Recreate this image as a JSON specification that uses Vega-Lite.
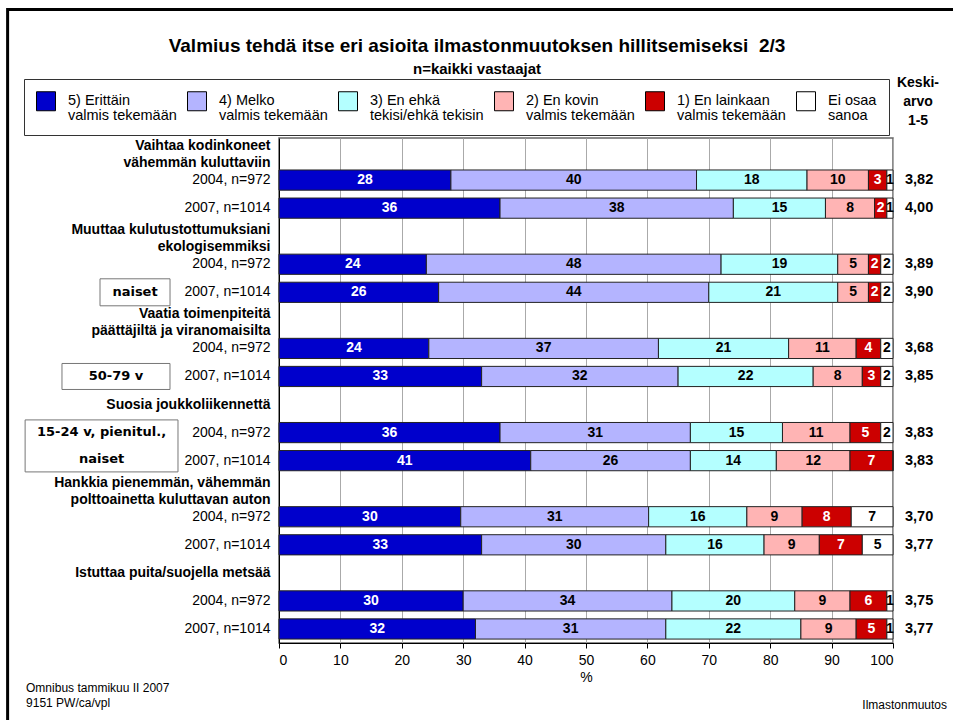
{
  "$schema": "https://vega.github.io/schema/vega-lite/v6.json",
  "width": 614,
  "height": 505,
  "autosize": {"type": "none"},
  "padding": {"left": 279, "top": 138, "right": 60, "bottom": 77},
  "background": "white",
  "title": {
    "text": "Valmius tehdä itse eri asioita ilmastonmuutoksen hillitsemiseksi\u00a0 2/3",
    "subtitle": "n=kaikki vastaajat",
    "font": "Liberation Sans",
    "fontSize": 19,
    "fontWeight": "bold",
    "color": "black",
    "subtitleFont": "Liberation Sans",
    "subtitleFontSize": 15,
    "subtitleFontWeight": "bold",
    "subtitleColor": "black",
    "subtitlePadding": 6,
    "anchor": "middle",
    "dx": -109,
    "dy": 79,
    "offset": 10
  },
  "config": {
    "font": "Liberation Sans",
    "locale": {"number": {"decimal": ",", "thousands": " ", "grouping": [3], "currency": ["", " €"]}},
    "view": {"stroke": "#666", "strokeWidth": 1.5},
    "style": {"guide-label": {"lineHeight": 15}}
  },
  "data": {
    "values": [
      {"slot": "1_2004", "mean": 3.82, "v5": 28, "v4": 40, "v3": 18, "v2": 10, "v1": 3, "v0": 1},
      {"slot": "1_2007", "mean": 4.00, "v5": 36, "v4": 38, "v3": 15, "v2": 8, "v1": 2, "v0": 1},
      {"slot": "2_2004", "mean": 3.89, "v5": 24, "v4": 48, "v3": 19, "v2": 5, "v1": 2, "v0": 2},
      {"slot": "2_2007", "mean": 3.90, "v5": 26, "v4": 44, "v3": 21, "v2": 5, "v1": 2, "v0": 2},
      {"slot": "3_2004", "mean": 3.68, "v5": 24.4, "v4": 37.4, "v3": 21.2, "v2": 11, "v1": 4, "v0": 2},
      {"slot": "3_2007", "mean": 3.85, "v5": 33, "v4": 32, "v3": 22, "v2": 8, "v1": 3, "v0": 2},
      {"slot": "4_2004", "mean": 3.83, "v5": 36, "v4": 31, "v3": 15, "v2": 11, "v1": 5, "v0": 2},
      {"slot": "4_2007", "mean": 3.83, "v5": 41, "v4": 26, "v3": 14, "v2": 12, "v1": 7, "v0": 0},
      {"slot": "5_2004", "mean": 3.70, "v5": 29.6, "v4": 30.6, "v3": 16, "v2": 9, "v1": 8, "v0": 6.8},
      {"slot": "5_2007", "mean": 3.77, "v5": 33, "v4": 30, "v3": 16, "v2": 9, "v1": 7, "v0": 5},
      {"slot": "6_2004", "mean": 3.75, "v5": 30, "v4": 34, "v3": 20, "v2": 9, "v1": 6, "v0": 1},
      {"slot": "6_2007", "mean": 3.77, "v5": 32, "v4": 31, "v3": 22, "v2": 9, "v1": 5, "v0": 1}
    ]
  },
  "resolve": {"scale": {"y": "independent"}},
  "layer": [
    {
      "data": {"values": [{"f": 1}]},
      "mark": {"type": "rect", "fillOpacity": 0, "stroke": "black", "strokeWidth": 3},
      "encoding": {
        "x": {"datum": -44.2, "type": "quantitative", "scale": {"domain": [0, 100]}},
        "x2": {"datum": 112},
        "y": {"datum": 125.45, "type": "quantitative", "scale": {"domain": [0, 100], "nice": false, "zero": false}, "axis": null},
        "y2": {"datum": -20}
      }
    },
    {
      "encoding": {
        "y": {
          "field": "slot",
          "type": "nominal",
          "sort": null,
          "scale": {
            "domain": [
              "Vaihtaa kodinkoneet|vähemmän kuluttaviin", "1_2004", "1_2007",
              "Muuttaa kulutustottumuksiani|ekologisemmiksi", "2_2004", "2_2007",
              "Vaatia toimenpiteitä|päättäjiltä ja viranomaisilta", "3_2004", "3_2007",
              "Suosia joukkoliikennettä", "4_2004", "4_2007",
              "Hankkia pienemmän, vähemmän|polttoainetta kuluttavan auton", "5_2004", "5_2007",
              "Istuttaa puita/suojella metsää", "6_2004", "6_2007"
            ],
            "paddingInner": 0.28,
            "paddingOuter": 0.14
          },
          "axis": {
            "title": null,
            "ticks": false,
            "domainColor": "black",
            "labelPadding": 9,
            "labelFont": "Liberation Sans",
            "labelFontSize": 14,
            "labelColor": "black",
            "labelLimit": 300,
            "labelLineHeight": 17,
            "labelExpr": "indexof(datum.value,'_2004')>0 ? '2004, n=972' : indexof(datum.value,'_2007')>0 ? '2007, n=1014' : split(datum.value,'|')",
            "labelFontWeight": {"condition": {"test": "indexof(datum.value,'_')<0", "value": "bold"}, "value": "normal"},
            "labelOffset": {"condition": {"test": "indexof(datum.value,'|')>0", "value": -6}, "value": 0}
          }
        }
      },
      "layer": [
        {
          "transform": [
            {"fold": ["v5", "v4", "v3", "v2", "v1", "v0"], "as": ["k", "val"]},
            {"calculate": "indexof(['v5','v4','v3','v2','v1','v0'], datum.k)", "as": "ord"},
            {"stack": "val", "groupby": ["slot"], "sort": [{"field": "ord", "order": "ascending"}], "as": ["x0", "x1"]},
            {"calculate": "(datum.x0 + datum.x1) / 2", "as": "xm"}
          ],
          "layer": [
            {
              "mark": {"type": "bar", "stroke": "#222", "strokeWidth": 1},
              "encoding": {
                "x": {
                  "field": "x0",
                  "type": "quantitative",
                  "scale": {"domain": [0, 100]},
                  "axis": {
                    "title": "%",
                    "values": [0, 10, 20, 30, 40, 50, 60, 70, 80, 90, 100],
                    "grid": true,
                    "gridColor": "#aaa",
                    "domainColor": "black",
                    "tickColor": "black",
                    "tickSize": 5,
                    "labelFont": "Liberation Sans",
                    "labelFontSize": 14,
                    "labelColor": "black",
                    "labelPadding": 5,
                    "titleFont": "Liberation Sans",
                    "titleFontSize": 14,
                    "titleFontWeight": "normal",
                    "titleColor": "black",
                    "titlePadding": 3
                  }
                },
                "x2": {"field": "x1"},
                "color": {
                  "field": "k",
                  "type": "nominal",
                  "scale": {
                    "domain": ["v5", "v4", "v3", "v2", "v1", "v0"],
                    "range": ["#0000cc", "#b4b4ff", "#b4ffff", "#ffb4b4", "#cc0000", "#ffffff"]
                  },
                  "legend": {
                    "orient": "none",
                    "legendX": -255,
                    "legendY": -59,
                    "direction": "horizontal",
                    "columns": 6,
                    "columnPadding": 8,
                    "title": null,
                    "symbolType": "square",
                    "symbolSize": 361,
                    "symbolStrokeColor": "black",
                    "symbolStrokeWidth": 1,
                    "symbolOpacity": 1,
                    "labelFont": "Liberation Sans",
                    "labelFontSize": 14.5,
                    "labelColor": "black",
                    "labelOffset": 12,
                    "labelLimit": 250,
                    "labelExpr": "split(['5) Erittäin|valmis tekemään','4) Melko|valmis tekemään','3) En ehkä|tekisi/ehkä tekisin','2) En kovin|valmis tekemään','1) En lainkaan|valmis tekemään','Ei osaa|sanoa'][indexof(['v5','v4','v3','v2','v1','v0'], datum.value)], '|')",
                    "strokeColor": "#333",
                    "fillColor": "white",
                    "padding": 12
                  }
                }
              }
            },
            {
              "transform": [{"filter": "datum.val > 0"}],
              "mark": {"type": "text", "font": "Liberation Sans", "fontWeight": "bold", "fontSize": 14},
              "encoding": {
                "x": {"field": "xm", "type": "quantitative", "scale": {"domain": [0, 100]}},
                "text": {"field": "val", "type": "quantitative", "format": ".0f"},
                "color": {"condition": {"test": "datum.k === 'v5' || datum.k === 'v1'", "value": "white"}, "value": "black"}
              }
            }
          ]
        },
        {
          "mark": {"type": "text", "align": "left", "dx": 12, "font": "Liberation Sans", "fontWeight": "bold", "fontSize": 14.5, "color": "black"},
          "encoding": {
            "x": {"datum": 100, "type": "quantitative", "scale": {"domain": [0, 100]}},
            "text": {"field": "mean", "type": "quantitative", "format": ".2f"}
          }
        },
        {
          "data": {"values": [{"t": "naiset"}]},
          "encoding": {
            "x": {"datum": -23.45, "type": "quantitative", "scale": {"domain": [0, 100]}},
            "y": {"datum": "2_2007", "type": "nominal"}
          },
          "layer": [
            {"mark": {"type": "point", "shape": "M-2.593,-1H2.593V1H-2.593Z", "size": 729, "filled": true, "fill": "white", "stroke": "#777", "strokeWidth": 1, "opacity": 1}},
            {"mark": {"type": "text", "font": "DejaVu Sans", "fontWeight": "bold", "fontSize": 13, "color": "black"}, "encoding": {"text": {"field": "t"}}}
          ]
        },
        {
          "data": {"values": [{"t": "50-79 v"}]},
          "encoding": {
            "x": {"datum": -26.55, "type": "quantitative", "scale": {"domain": [0, 100]}},
            "y": {"datum": "3_2007", "type": "nominal"}
          },
          "layer": [
            {"mark": {"type": "point", "shape": "M-4.154,-1H4.154V1H-4.154Z", "size": 676, "filled": true, "fill": "white", "stroke": "#777", "strokeWidth": 1, "opacity": 1}},
            {"mark": {"type": "text", "font": "DejaVu Sans", "fontWeight": "bold", "fontSize": 13, "color": "black"}, "encoding": {"text": {"field": "t"}}}
          ]
        },
        {
          "data": {"values": [{"t": ["15-24 v, pienitul.,", "naiset"]}]},
          "encoding": {
            "x": {"datum": -28.9, "type": "quantitative", "scale": {"domain": [0, 100]}},
            "y": {"datum": "4_2004", "type": "nominal", "bandPosition": 1.16}
          },
          "layer": [
            {"mark": {"type": "point", "shape": "M-2.94,-1H2.94V1H-2.94Z", "size": 2704, "filled": true, "fill": "white", "stroke": "#777", "strokeWidth": 1, "opacity": 1}},
            {"mark": {"type": "text", "font": "DejaVu Sans", "fontWeight": "bold", "fontSize": 13, "lineHeight": 27, "baseline": "middle", "dy": -13.5, "color": "black"}, "encoding": {"text": {"field": "t"}}}
          ]
        },
        {
          "data": {"values": [{"t": ["Keski-", "arvo", "1-5"]}]},
          "mark": {"type": "text", "align": "center", "baseline": "middle", "lineHeight": 19, "dy": -69, "font": "Liberation Sans", "fontWeight": "bold", "fontSize": 14, "color": "black"},
          "encoding": {
            "x": {"datum": 104.07, "type": "quantitative", "scale": {"domain": [0, 100]}},
            "y": {"datum": "Vaihtaa kodinkoneet|vähemmän kuluttaviin", "type": "nominal"},
            "text": {"field": "t"}
          }
        },
        {
          "data": {"values": [{"t": ["Omnibus tammikuu II 2007", "9151 PW/ca/vpl"]}]},
          "mark": {"type": "text", "align": "left", "baseline": "middle", "lineHeight": 15, "dy": 59, "font": "Liberation Sans", "fontSize": 12, "color": "black"},
          "encoding": {
            "x": {"datum": -41.2, "type": "quantitative", "scale": {"domain": [0, 100]}},
            "y": {"datum": "6_2007", "type": "nominal"},
            "text": {"field": "t"}
          }
        },
        {
          "data": {"values": [{"t": "Ilmastonmuutos"}]},
          "mark": {"type": "text", "align": "right", "baseline": "middle", "dy": 76, "font": "Liberation Sans", "fontSize": 12, "color": "black"},
          "encoding": {
            "x": {"datum": 108.8, "type": "quantitative", "scale": {"domain": [0, 100]}},
            "y": {"datum": "6_2007", "type": "nominal"},
            "text": {"field": "t"}
          }
        }
      ]
    }
  ]
}
